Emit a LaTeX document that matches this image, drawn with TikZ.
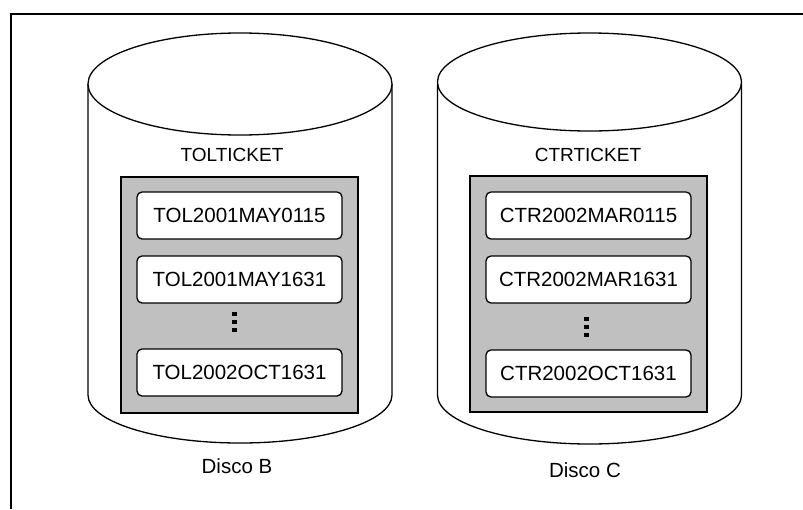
\documentclass[tikz,border=0pt]{standalone}
\usepackage{fontspec}
\setmainfont{Liberation Sans}
\begin{document}
\begin{tikzpicture}[x=1pt,y=-1pt,line width=1.3pt,
  outline/.style={draw=black,line width=1.3pt},
  tray/.style={draw=black,fill=traygray,line width=1.5pt},
  entry/.style={draw=black,fill=white,rounded corners=5pt,line width=1.3pt,
    minimum width=205pt,minimum height=47pt,inner sep=0pt,
    font=\fontsize{20.5}{24}\selectfont},
  title/.style={font=\fontsize{19}{22}\selectfont,inner sep=0pt},
  disklabel/.style={font=\fontsize{20.5}{24}\selectfont,inner sep=0pt},
  dot/.style={fill=black,draw=none,minimum width=5pt,minimum height=4.5pt,inner sep=0pt}]
\definecolor{traygray}{RGB}{192,192,192}
\useasboundingbox (0,0) rectangle (803,509);

% frame (top and left edges only)
\draw[line width=1.3pt] (803,14) -- (11,14) -- (11,509);

% disk B
\begin{scope}[shift={(240,0)}]
  \draw[outline] (-152,84) -- (-152,395) arc[start angle=180,end angle=360,x radius=152,y radius=-48] -- (152,84);
  \draw[outline,fill=white] (0,84) ellipse[x radius=152,y radius=51];
\end{scope}
% disk C
\begin{scope}[shift={(589.5,0)}]
  \draw[outline] (-152,84) -- (-152,395) arc[start angle=180,end angle=360,x radius=152,y radius=-49] -- (152,84);
  \draw[outline,fill=white] (0,82) ellipse[x radius=152,y radius=49];
\end{scope}

% table TOLTICKET
\node[title] (tB) at (232,155) {TOLTICKET};
\draw[tray] (121,177) rectangle (358,413);
\node[entry] (b1) at (239.5,215.5) {TOL2001MAY0115};
\node[entry] (b2) at (239.5,279.5) {TOL2001MAY1631};
\node[entry] (b3) at (239.5,372.5) {TOL2002OCT1631};
\node[dot] (bd1) at (234.7,314) {};
\node[dot] (bd2) at (234.7,322) {};
\node[dot] (bd3) at (234.7,330) {};
\node[disklabel] (dB) at (237,466) {Disco B};

% table CTRTICKET
\node[title] (tC) at (588,155) {CTRTICKET};
\draw[tray] (470,176) rectangle (707,412);
\node[entry] (c1) at (588.5,215.5) {CTR2002MAR0115};
\node[entry] (c2) at (588.5,279.5) {CTR2002MAR1631};
\node[entry] (c3) at (588.5,373.5) {CTR2002OCT1631};
\node[dot] (cd1) at (586,319) {};
\node[dot] (cd2) at (586,327) {};
\node[dot] (cd3) at (586,335) {};
\node[disklabel] (dC) at (585,470) {Disco C};
\end{tikzpicture}
\end{document}
